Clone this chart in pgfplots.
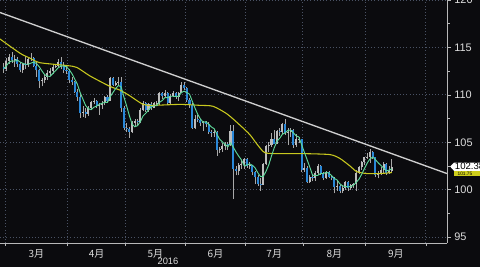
\documentclass[border=0pt]{standalone}
\usepackage{pgfplots}
\pgfplotsset{compat=1.18}
\usepackage{pgfplotstable}
\usepackage{fontspec}
\setmainfont{Liberation Sans}
\newfontfamily\cjk{Noto Sans CJK SC}
\definecolor{bg}{HTML}{0B0B0E}
\definecolor{gridc}{HTML}{4A5264}
\definecolor{upc}{HTML}{BDBDBD}
\definecolor{dnc}{HTML}{2A88D8}
\definecolor{wick}{HTML}{A8A8A8}
\definecolor{ma1}{HTML}{5ED89A}
\definecolor{ma2}{HTML}{C8C81E}
\definecolor{trend}{HTML}{CFCFCF}
\definecolor{axc}{HTML}{B8B8B8}
\definecolor{txt}{HTML}{DDDDDD}

\pgfplotstableread{
i o h l c
-1 113.0 113.4 112.3 112.7
0 112.7 113.9 112.5 113.6
1 113.6 114.3 113.3 114.0
2 114.0 114.5 113.4 113.7
3 113.7 114.2 113.0 113.8
4 113.8 114.0 112.9 113.3
5 113.3 113.5 112.4 112.6
6 112.6 113.4 112.3 113.3
7 113.3 114.1 112.7 113.2
8 113.2 114.0 113.0 113.8
9 113.8 114.4 113.6 113.9
10 113.9 114.0 112.9 113.1
11 113.1 113.6 111.9 112.6
12 112.6 112.7 110.7 111.5
13 111.5 111.8 110.9 111.6
14 111.6 112.2 111.3 111.9
15 111.9 112.6 111.6 112.3
16 112.3 112.8 112.0 112.5
17 112.5 113.2 112.2 113.0
18 113.0 113.3 112.8 113.1
19 113.1 113.8 112.9 113.5
20 113.5 114.0 112.7 113.1
21 113.1 113.5 112.3 112.6
22 112.6 113.1 112.2 112.5
23 112.5 112.7 111.3 111.6
24 111.6 111.9 111.1 111.4
25 111.4 111.5 110.2 110.3
26 110.3 110.6 109.4 109.8
27 109.8 110.1 107.6 108.1
28 108.1 108.8 107.7 108.2
29 108.2 108.6 107.6 108.0
30 108.0 108.8 107.8 108.6
31 108.6 109.4 108.4 109.3
32 109.3 109.7 109.0 109.4
33 109.4 109.5 108.6 108.8
34 108.8 109.1 107.9 108.9
35 108.9 109.4 108.5 109.2
36 109.2 109.9 108.9 109.8
37 109.8 110.0 109.2 109.4
38 109.4 111.9 109.4 111.8
39 111.8 111.9 110.9 111.1
40 111.1 111.5 110.9 111.3
41 111.3 111.9 111.1 111.4
42 111.4 111.9 108.2 108.6
43 108.6 108.8 106.3 106.5
44 106.5 107.0 106.1 106.4
45 106.4 106.6 105.5 106.1
46 106.1 107.3 106.0 107.0
47 107.0 107.5 106.7 107.2
48 107.2 107.5 106.8 107.1
49 107.1 108.6 107.0 108.4
50 108.4 109.4 108.3 109.2
51 109.2 109.3 108.2 108.4
52 108.4 109.2 108.2 109.0
53 109.0 109.3 108.4 108.6
54 108.6 109.3 108.6 109.1
55 109.1 109.4 108.8 109.2
56 109.2 110.3 108.9 110.2
57 110.2 110.3 109.6 109.9
58 109.9 110.5 109.8 110.2
59 110.2 110.3 108.9 109.1
60 109.1 110.1 109.0 109.9
61 109.9 110.4 109.8 110.2
62 110.2 110.3 109.6 109.8
63 109.8 110.3 109.4 110.2
64 110.2 111.4 110.2 111.1
65 111.1 111.4 110.5 110.7
66 110.7 110.8 109.3 109.5
67 109.5 109.7 108.6 108.9
68 108.9 109.1 106.4 106.5
69 106.5 107.9 106.4 107.5
70 107.5 107.9 107.1 107.4
71 107.4 107.5 106.7 107.0
72 107.0 107.2 106.2 107.1
73 107.1 107.3 106.6 106.9
74 106.9 107.1 105.9 106.1
75 106.1 106.3 105.6 106.0
76 106.0 106.3 105.6 106.1
77 106.1 106.2 103.6 104.2
78 104.2 104.5 103.9 104.3
79 104.3 104.9 104.0 104.6
80 104.6 105.0 104.2 104.8
81 104.8 105.0 104.2 104.7
82 104.7 106.8 104.6 106.2
83 106.2 106.8 99.0 102.2
84 102.2 102.5 101.5 102.0
85 102.0 102.8 101.5 102.6
86 102.6 103.1 102.2 102.7
87 102.7 103.3 102.2 103.2
88 103.2 103.3 102.3 102.5
89 102.5 102.9 102.2 102.6
90 102.6 102.6 101.5 101.9
91 101.9 102.0 100.6 101.3
92 101.3 101.6 100.4 100.6
93 100.6 101.2 99.9 100.5
94 100.5 102.8 100.5 102.7
95 102.7 104.7 102.6 104.6
96 104.6 105.0 104.0 104.7
97 104.7 106.0 104.5 105.3
98 105.3 106.3 104.8 104.8
99 104.8 106.3 104.8 106.2
100 106.2 106.5 105.7 106.1
101 106.1 107.0 105.9 106.9
102 106.9 107.5 105.8 106.0
103 106.0 106.5 104.7 106.1
104 106.1 106.5 105.6 106.3
105 106.3 106.4 104.4 104.7
106 104.7 105.9 104.5 105.3
107 105.3 105.6 104.9 105.4
108 105.4 105.4 101.9 102.1
109 102.1 102.8 101.9 102.3
110 102.3 102.5 100.7 100.8
111 100.8 101.5 100.7 101.3
112 101.3 101.7 100.9 101.2
113 101.2 102.0 100.9 101.8
114 101.8 102.7 101.6 102.5
115 102.5 102.6 101.6 101.8
116 101.8 101.9 101.0 101.2
117 101.2 102.0 101.1 101.9
118 101.9 102.0 101.2 101.3
119 101.3 101.6 101.0 101.2
120 101.2 101.3 99.6 100.3
121 100.3 100.9 99.9 100.4
122 100.4 100.5 99.6 99.9
123 99.9 100.5 99.7 100.2
124 100.2 100.9 100.0 100.8
125 100.8 100.9 99.9 100.2
126 100.2 100.6 100.0 100.5
127 100.5 100.7 100.2 100.6
128 100.6 102.1 99.9 101.8
129 101.8 102.5 101.7 102.4
130 102.4 103.0 102.1 102.9
131 102.9 103.5 102.6 103.4
132 103.4 103.9 103.2 103.5
133 103.5 104.3 102.8 104.0
134 104.0 104.1 103.2 103.4
135 103.4 103.5 101.3 101.6
136 101.6 102.0 101.2 101.7
137 101.7 102.4 101.5 102.1
138 102.1 102.9 101.7 102.7
139 102.7 102.8 101.6 101.8
140 101.8 102.5 101.7 102.0
141 102.0 103.2 101.9 102.38
}\candles

\pgfplotstableread{
x y
-0.5 112.78
0.5 113.08
1.5 113.44
2.5 113.60
3.5 113.56
4.5 113.68
5.5 113.48
6.5 113.34
7.5 113.24
8.5 113.24
9.5 113.36
10.5 113.46
11.5 113.32
12.5 112.98
13.5 112.54
14.5 112.14
15.5 111.98
16.5 111.96
17.5 112.26
18.5 112.56
19.5 112.88
20.5 113.04
21.5 113.06
22.5 112.96
23.5 112.66
24.5 112.24
25.5 111.68
26.5 111.12
27.5 110.24
28.5 109.56
29.5 108.88
30.5 108.54
31.5 108.44
32.5 108.70
33.5 108.82
34.5 109.00
35.5 109.12
36.5 109.22
37.5 109.22
38.5 109.82
39.5 110.26
40.5 110.68
41.5 111.00
42.5 110.84
43.5 109.78
44.5 108.84
45.5 107.80
46.5 106.92
47.5 106.64
48.5 106.76
49.5 107.16
50.5 107.78
51.5 108.06
52.5 108.42
53.5 108.72
54.5 108.86
55.5 108.86
56.5 109.22
57.5 109.40
58.5 109.72
59.5 109.72
60.5 109.86
61.5 109.86
62.5 109.84
63.5 109.84
64.5 110.24
65.5 110.40
66.5 110.26
67.5 110.08
68.5 109.34
69.5 108.62
70.5 107.96
71.5 107.46
72.5 107.10
73.5 107.18
74.5 106.90
75.5 106.62
76.5 106.44
77.5 105.86
78.5 105.34
79.5 105.04
80.5 104.80
81.5 104.52
82.5 104.92
83.5 104.50
84.5 103.98
85.5 103.54
86.5 103.14
87.5 102.54
88.5 102.60
89.5 102.72
90.5 102.58
91.5 102.30
92.5 101.78
93.5 101.38
94.5 101.40
95.5 101.94
96.5 102.62
97.5 103.56
98.5 104.42
99.5 105.12
100.5 105.42
101.5 105.86
102.5 106.00
103.5 106.26
104.5 106.28
105.5 106.00
106.5 105.68
107.5 105.56
108.5 104.76
109.5 103.96
110.5 103.18
111.5 102.38
112.5 101.54
113.5 101.48
114.5 101.52
115.5 101.72
116.5 101.70
117.5 101.84
118.5 101.74
119.5 101.48
120.5 101.18
121.5 101.02
122.5 100.62
123.5 100.40
124.5 100.32
125.5 100.30
126.5 100.32
127.5 100.46
128.5 100.78
129.5 101.10
130.5 101.64
131.5 102.22
132.5 102.80
133.5 103.24
134.5 103.44
135.5 103.18
136.5 102.84
137.5 102.56
138.5 102.30
139.5 101.98
140.5 102.06
141.5 102.20
}\fastma

\pgfplotstableread{
x y
-1.83 115.9
5.5 114.4
9.0 113.9
12.8 113.4
22.7 113.1
26.3 112.9
31.1 112.0
38.4 110.9
42.1 110.5
45.7 109.9
50.5 109.0
54.1 108.9
64.0 109.0
71.3 108.9
76.1 108.8
81.2 108.0
86.0 106.8
89.6 105.8
92.2 104.8
95.1 103.9
100.6 103.8
109.7 103.8
118.9 103.7
122.5 103.3
126.2 102.5
128.7 101.9
132.4 101.7
137.2 101.7
141.5 101.8
}\slowma

\begin{document}
\begin{tikzpicture}[x=1pt,y=1pt]
\fill[bg] (0,0) rectangle (360,-200.25);
\useasboundingbox (0,0) rectangle (360,-200.25);
\begin{axis}[
  at={(0pt,0pt)}, anchor=north west,
  scale only axis, width=335.25pt, height=182.25pt,
  xmin=-1.83, xmax=161.7, ymin=94.37, ymax=120.02,
  axis x line*=bottom, axis y line*=right,
  axis line style={axc, -, line width=0.6pt},
  tick align=outside,
  every tick/.style={axc, line width=0.6pt},
  xtick={11.5,33.5,55,77,98.5,120.5,143},
  xticklabels={3月,4月,5月,6月,7月,8月,9月},
  major x tick style={draw=none},
  minor xtick={0,23,44,66,88,109,132,154},
  minor tick length=2.2pt,
  major tick length=3pt,
  xminorgrids=true,
  minor x grid style={gridc, dotted, line width=0.7pt},
  xticklabel style={font=\cjk\fontsize{7.5}{8}\selectfont, text=txt, yshift=1.5pt},
  ytick={95,100,105,110,115,120},
  minor ytick={97.5,102.5,107.5,112.5,117.5},
  ymajorgrids=true,
  major grid style={gridc, dotted, line width=0.7pt},
  yticklabel style={font=\fontsize{8.2}{9}\selectfont, text=txt, anchor=west, xshift=-1pt},
  /pgf/number format/assume math mode=true,
  clip=true,
]
% wicks
\addplot[draw=none, mark=none, forget plot,
  error bars/.cd, y dir=plus, y explicit, error mark=none,
  error bar style={draw=wick, line width=0.45pt, solid}]
  table[x expr=\thisrow{i}+0.5, y=l, y error expr=\thisrow{h}-\thisrow{l}] {\candles};
% up bodies
\addplot[draw=none, mark=none, forget plot,
  error bars/.cd, y dir=plus, y explicit, error mark=none,
  error bar style={draw=upc, line width=1.55pt, solid}]
  table[x expr=\thisrow{i}+0.5,
        y expr={(\thisrow{c}>=\thisrow{o}) ? \thisrow{o} : nan},
        y error expr={max(abs(\thisrow{c}-\thisrow{o}),0.08)}] {\candles};
% down bodies
\addplot[draw=none, mark=none, forget plot,
  error bars/.cd, y dir=plus, y explicit, error mark=none,
  error bar style={draw=dnc, line width=1.55pt, solid}]
  table[x expr=\thisrow{i}+0.5,
        y expr={(\thisrow{c}<\thisrow{o}) ? \thisrow{c} : nan},
        y error expr={max(abs(\thisrow{c}-\thisrow{o}),0.08)}] {\candles};
% moving averages
\addplot[ma2, line width=0.8pt, mark=none, smooth, tension=0.4] table[x=x, y=y] {\slowma};
\addplot[ma1, line width=0.7pt, mark=none] table[x=x, y=y] {\fastma};
% trend line
\addplot[trend, line width=1.0pt, mark=none] coordinates {(-1.83,118.7) (161.7,101.7)};
\end{axis}
% year label
\node[font=\fontsize{7}{8}\selectfont, text=txt] at (126pt,-196.3pt) {2016};
% last price label
\fill[white] (337.6,-124.9) -- (340.5,-121.9) -- (360,-121.9) -- (360,-128.1) -- (340.5,-128.1) -- cycle;
\node[font=\fontsize{7.2}{8}\selectfont, text=black, anchor=west, inner sep=0pt] at (341,-125) {102.38};
\fill[ma2!90!yellow] (340.5,-128.6) rectangle (360,-132.2);
\node[font=\fontsize{3.6}{4}\selectfont, text=black, anchor=west, inner sep=0pt] at (343,-130.4) {101.75};
\end{tikzpicture}
\end{document}
